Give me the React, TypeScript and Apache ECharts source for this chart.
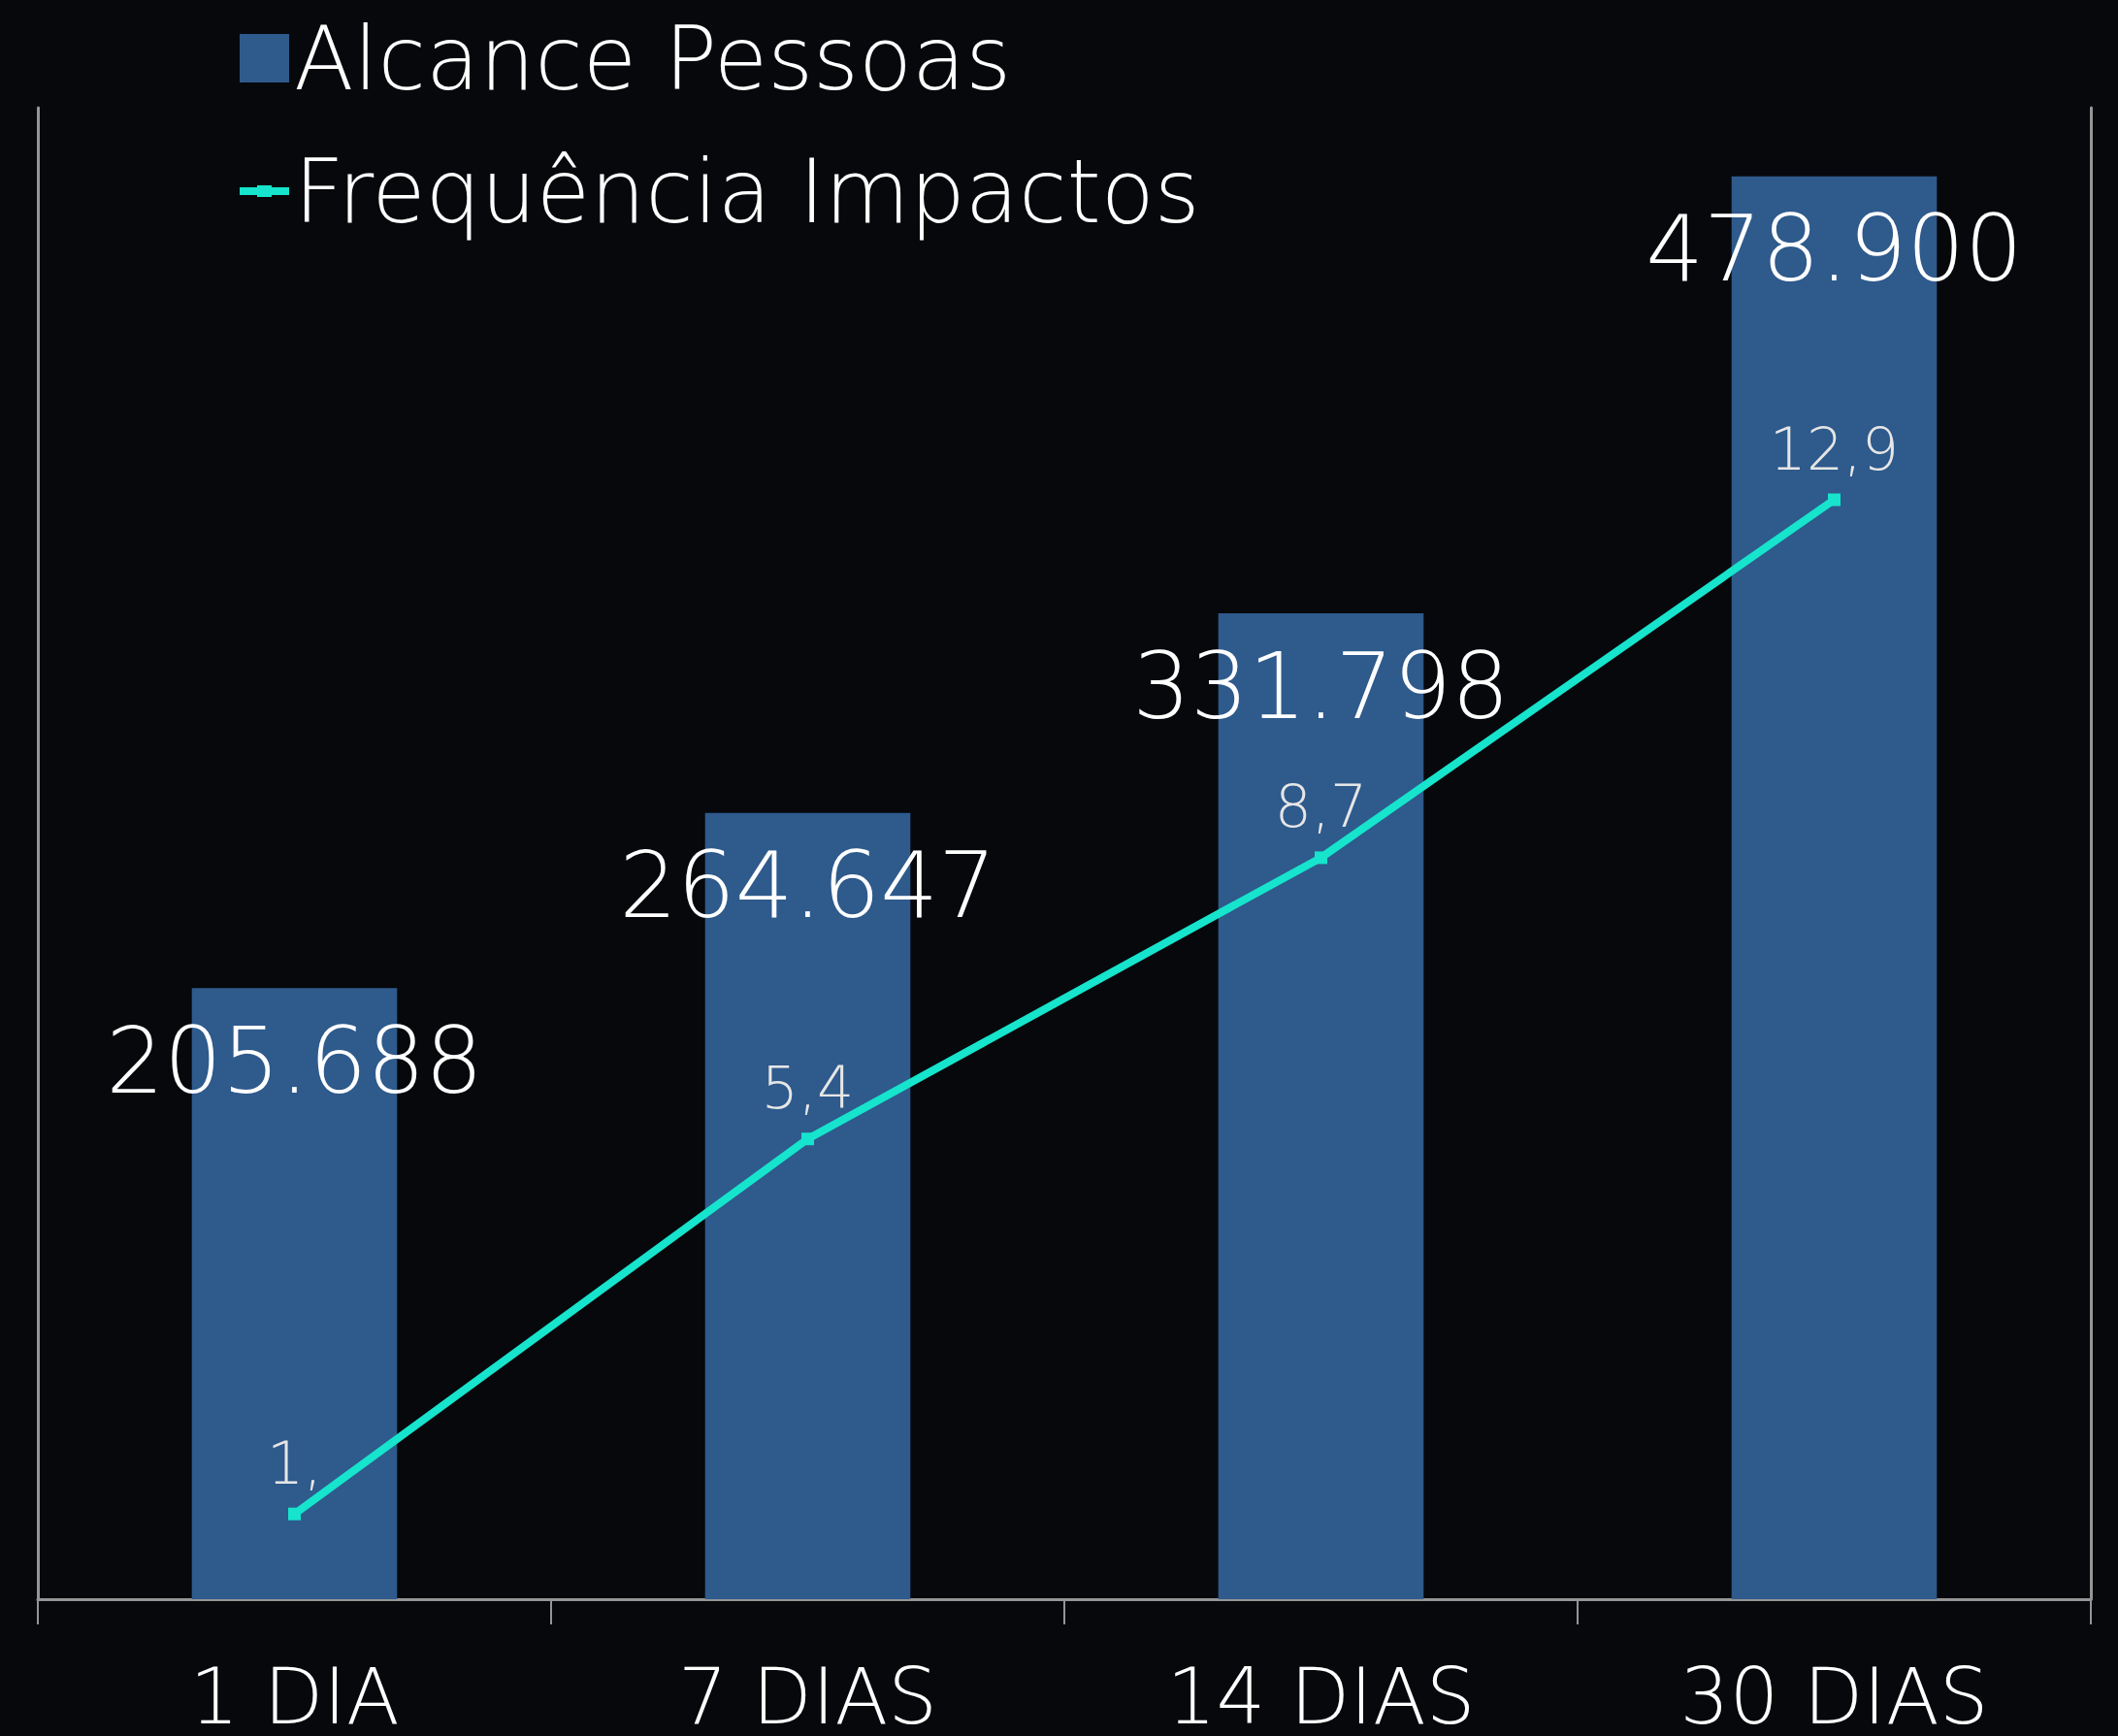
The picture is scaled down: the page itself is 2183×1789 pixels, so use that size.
import React, { useEffect, useRef } from "react";
import * as echarts from "echarts";

const categories = ["1 DIA", "7 DIAS", "14 DIAS", "30 DIAS"];
const alcancePessoas = [205688, 264647, 331798, 478900];
const frequenciaImpactos = [1.0, 5.4, 8.7, 12.9];
const frequenciaLabels = ["1,", "5,4", "8,7", "12,9"];

const FONT = "DejaVu Sans";
const WEIGHT = 200;

function fmtThousands(v: number): string {
  return String(v).replace(/\B(?=(\d{3})+(?!\d))/g, ".");
}

export default function App() {
  const ref = useRef<HTMLDivElement>(null);
  useEffect(() => {
    if (!ref.current) return;
    const chart = echarts.init(ref.current, null, { renderer: "svg" });
    const axisGray = "#959595";
    chart.setOption({
      animation: false,
      backgroundColor: "#06080c",
      legend: {
        orient: "vertical",
        left: 247,
        top: 15,
        padding: 0,
        itemWidth: 51,
        itemHeight: 50,
        itemGap: 47,
        textStyle: { color: "#ffffff", fontSize: 90, fontFamily: FONT, fontWeight: WEIGHT },
        data: [
          { name: "Alcance Pessoas", icon: "rect" },
          {
            name: "Frequência Impactos",
            icon: "path://M0,0 M51,50 M0,21 L51,21 L51,29 L0,29 Z M18,19 L33,19 L33,31 L18,31 Z",
          },
        ],
      },
      grid: { left: 39, right: 28, top: 111, bottom: 141, containLabel: false },
      xAxis: {
        type: "category",
        data: categories,
        boundaryGap: true,
        axisLine: { show: true, lineStyle: { color: axisGray, width: 3 } },
        axisTick: { show: true, length: 26, alignWithLabel: false, lineStyle: { color: axisGray, width: 2 } },
        axisLabel: {
          color: "#ffffff",
          fontSize: 80,
          lineHeight: 40,
          fontFamily: FONT,
          fontWeight: WEIGHT,
          margin: 80,
        },
        splitLine: { show: false },
      },
      yAxis: [
        {
          type: "value",
          min: 0,
          max: 502000,
          axisLine: { show: true, lineStyle: { color: axisGray, width: 3 } },
          axisTick: { show: false },
          axisLabel: { show: false },
          splitLine: { show: false },
        },
        {
          type: "value",
          min: 0,
          max: 17.5,
          position: "right",
          axisLine: { show: true, lineStyle: { color: axisGray, width: 3 } },
          axisTick: { show: false },
          axisLabel: { show: false },
          splitLine: { show: false },
        },
      ],
      series: [
        {
          name: "Alcance Pessoas",
          type: "bar",
          yAxisIndex: 0,
          data: alcancePessoas,
          barWidth: "40%",
          itemStyle: { color: "#2e5a8c" },
          label: {
            show: true,
            position: "insideTop",
            distance: 28,
            color: "#ffffff",
            fontSize: 94,
            fontFamily: FONT,
            fontWeight: WEIGHT,
            formatter: (p: any) => fmtThousands(p.value),
          },
        },
        {
          name: "Frequência Impactos",
          type: "line",
          yAxisIndex: 1,
          data: frequenciaImpactos,
          symbol: "rect",
          symbolSize: 13,
          lineStyle: { color: "#16e4cc", width: 8 },
          itemStyle: { color: "#16e4cc" },
          label: {
            show: true,
            position: "top",
            distance: 16,
            color: "#e6e6e6",
            fontSize: 60,
            fontFamily: FONT,
            fontWeight: WEIGHT,
            formatter: (p: any) => frequenciaLabels[p.dataIndex],
          },
        },
      ],
    });
    return () => chart.dispose();
  }, []);
  return (
    <div
      ref={ref}
      style={{ position: "fixed", left: 0, top: 0, width: 2183, height: 1789 }}
    />
  );
}
